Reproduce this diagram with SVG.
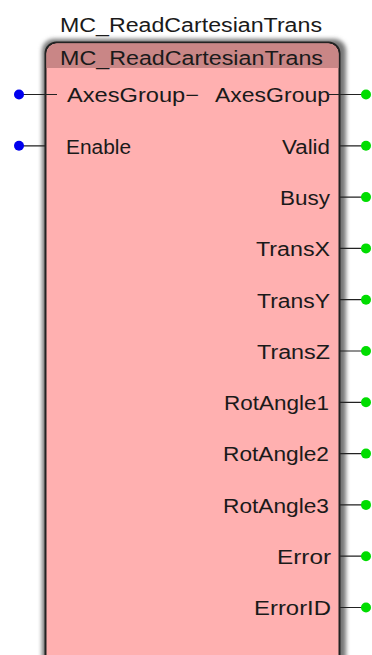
<svg xmlns="http://www.w3.org/2000/svg" width="372" height="655" viewBox="0 0 372 655">
<defs>
<style>
.t{font-family:"Liberation Sans",Arial,sans-serif;font-size:20px;fill:#1a1a1a}
.r{text-anchor:end}
.c{text-anchor:middle}
.w{stroke:#222;stroke-width:1.2;fill:none}
.in{fill:#0000ee}
.out{fill:#00dd00}
</style>
<filter id="sh" x="-10%" y="-10%" width="120%" height="120%"><feGaussianBlur stdDeviation="2"/></filter>
</defs>
<rect width="372" height="655" fill="#fff"/>
<text class="t c" x="191" y="32" textLength="262" lengthAdjust="spacingAndGlyphs">MC_ReadCartesianTrans</text>
<g id="block">
<rect x="42" y="39" width="304" height="630" rx="12" fill="#777" filter="url(#sh)"/>
<rect x="45.5" y="42.5" width="294" height="625" rx="11" fill="#ffb0b0" stroke="#222" stroke-width="2"/>
<path d="M46.5,68 V54 A10.5,10.5 0 0 1 57,43.5 H328 A10.5,10.5 0 0 1 338.5,54 V68 Z" fill="#c98686"/>
<text class="t c" x="191.5" y="65" textLength="263" lengthAdjust="spacingAndGlyphs">MC_ReadCartesianTrans</text>
</g>
<g id="connectors">
<path class="w" d="M19,94.5 H57 M19,145.8 H46"/>
<path class="w" d="M329,94.5 H366 M340,145.8 H366 M340,197.1 H366 M340,248.4 H366 M340,299.7 H366 M340,351 H366 M340,402.3 H366 M340,453.6 H366 M340,504.9 H366 M340,556.2 H366 M340,607.5 H366"/>
<circle class="in" cx="19" cy="94.5" r="5"/>
<circle class="in" cx="19" cy="145.8" r="5"/>
<circle class="out" cx="366" cy="94.5" r="5"/>
<circle class="out" cx="366" cy="145.8" r="5"/>
<circle class="out" cx="366" cy="197.1" r="5"/>
<circle class="out" cx="366" cy="248.4" r="5"/>
<circle class="out" cx="366" cy="299.7" r="5"/>
<circle class="out" cx="366" cy="351" r="5"/>
<circle class="out" cx="366" cy="402.3" r="5"/>
<circle class="out" cx="366" cy="453.6" r="5"/>
<circle class="out" cx="366" cy="504.9" r="5"/>
<circle class="out" cx="366" cy="556.2" r="5"/>
<circle class="out" cx="366" cy="607.5" r="5"/>
</g>
<g id="labels">
<text class="t" x="67" y="102" textLength="132" lengthAdjust="spacingAndGlyphs">AxesGroup−</text>
<text class="t" x="66" y="153.5" textLength="65" lengthAdjust="spacingAndGlyphs">Enable</text>
<text class="t r" x="330" y="102" textLength="115" lengthAdjust="spacingAndGlyphs">AxesGroup</text>
<text class="t r" x="330" y="153.5" textLength="48" lengthAdjust="spacingAndGlyphs">Valid</text>
<text class="t r" x="330" y="205" textLength="50" lengthAdjust="spacingAndGlyphs">Busy</text>
<text class="t r" x="330" y="256" textLength="74" lengthAdjust="spacingAndGlyphs">TransX</text>
<text class="t r" x="330" y="307.5" textLength="73" lengthAdjust="spacingAndGlyphs">TransY</text>
<text class="t r" x="330" y="358.5" textLength="73" lengthAdjust="spacingAndGlyphs">TransZ</text>
<text class="t r" x="329" y="410" textLength="105" lengthAdjust="spacingAndGlyphs">RotAngle1</text>
<text class="t r" x="329" y="461" textLength="106" lengthAdjust="spacingAndGlyphs">RotAngle2</text>
<text class="t r" x="329" y="512.5" textLength="106" lengthAdjust="spacingAndGlyphs">RotAngle3</text>
<text class="t r" x="331" y="564" textLength="54" lengthAdjust="spacingAndGlyphs">Error</text>
<text class="t r" x="331" y="615" textLength="77" lengthAdjust="spacingAndGlyphs">ErrorID</text>
</g>
</svg>
